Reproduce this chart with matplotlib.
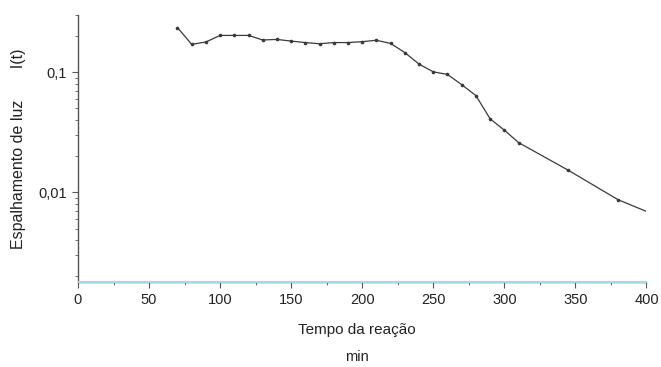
import matplotlib.pyplot as plt
from matplotlib.ticker import FixedLocator, FixedFormatter, LogLocator, NullFormatter, MultipleLocator

plt.rcParams['font.family'] = ['Liberation Sans', 'DejaVu Sans']

# tempo (min) e espalhamento de luz I(t)
tempo = [70, 80, 90, 100, 110, 120, 130, 140, 150, 160, 170, 180, 190, 200, 210, 220,
         230, 240, 250, 260, 270, 280, 290, 300, 310, 345, 380, 410]
intensidade = [0.236, 0.171, 0.179, 0.203, 0.203, 0.203, 0.186, 0.188, 0.182, 0.177,
               0.173, 0.177, 0.177, 0.180, 0.185, 0.174, 0.146, 0.117, 0.101, 0.096,
               0.079, 0.064, 0.041, 0.033, 0.026, 0.0153, 0.0087, 0.0062]
yticks = [0.1, 0.01]
yticklabels = ['0,1', '0,01']

fig = plt.figure(figsize=(6.61, 3.67), dpi=100)
ax = fig.add_axes([0.118, 0.232, 0.860, 0.727])

ax.plot(tempo, intensidade, color='#3a3a3a', lw=0.9, marker='o', ms=1.6, zorder=3)
# linha azul clara junto ao eixo
ax.axhline(0.0018, color='#a8d8ea', lw=1.4, zorder=4, clip_on=False)

ax.set_yscale('log')
ax.set_xlim(0, 400)
ax.set_ylim(0.0018, 0.3)
ax.yaxis.set_major_locator(FixedLocator(yticks))
ax.yaxis.set_major_formatter(FixedFormatter(yticklabels))
ax.yaxis.set_minor_locator(LogLocator(base=10, subs=range(2, 10)))
ax.yaxis.set_minor_formatter(NullFormatter())
ax.xaxis.set_major_locator(MultipleLocator(50))
ax.xaxis.set_minor_locator(MultipleLocator(25))

for s in ['top', 'right']:
    ax.spines[s].set_visible(False)
for s in ['left', 'bottom']:
    ax.spines[s].set_color('#555555')
    ax.spines[s].set_linewidth(1.0)
ax.tick_params(which='major', length=4, color='#555555', labelsize=10.5, labelcolor='#222222', pad=4)
ax.tick_params(which='minor', length=2, color='#555555')

ax.set_ylabel('Espalhamento de luz       I(t)', fontsize=11.5, color='#222222', labelpad=9)
fig.text(0.54, 0.1, 'Tempo da reação', ha='center', va='center', fontsize=11, color='#222222')
fig.text(0.54, 0.027, 'min', ha='center', va='center', fontsize=10.5, color='#222222')

fig.savefig('out.png', dpi=100)
